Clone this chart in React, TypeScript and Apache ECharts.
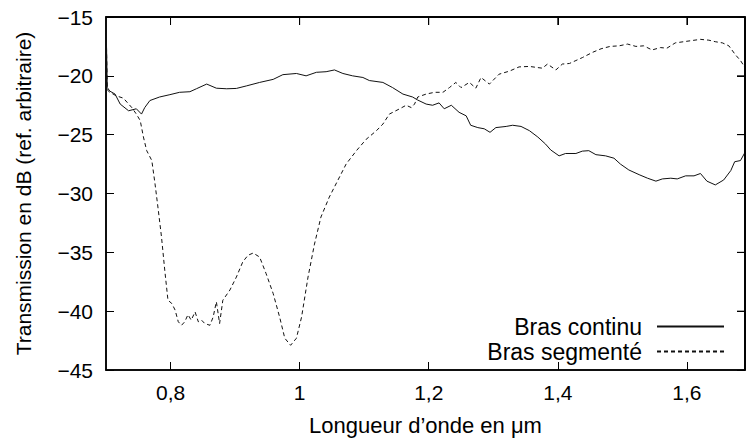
import React, { useEffect, useRef } from "react";
import * as echarts from "echarts";

const xTickValues = [0.8, 1.0, 1.2, 1.4, 1.6];
const yTickValues = [-40, -35, -30, -25, -20];
const X_MIN = 0.7;
const X_MAX = 1.69;
const Y_MIN = -45;
const Y_MAX = -15;
const legendNames = ["Bras continu", "Bras segmenté"];

const continuX = [0.7, 0.702, 0.706, 0.714, 0.722, 0.735, 0.747, 0.755, 0.76, 0.768, 0.783, 0.799, 0.814, 0.83, 0.84, 0.856, 0.871, 0.887, 0.902, 0.918, 0.938, 0.959, 0.974, 0.995, 1.01, 1.026, 1.041, 1.054, 1.067, 1.082, 1.098, 1.108, 1.129, 1.144, 1.16, 1.175, 1.183, 1.196, 1.206, 1.216, 1.224, 1.235, 1.247, 1.258, 1.265, 1.276, 1.286, 1.295, 1.304, 1.32, 1.33, 1.343, 1.356, 1.369, 1.381, 1.389, 1.402, 1.412, 1.428, 1.438, 1.448, 1.459, 1.474, 1.487, 1.497, 1.51, 1.526, 1.539, 1.552, 1.562, 1.575, 1.585, 1.598, 1.611, 1.621, 1.631, 1.644, 1.657, 1.668, 1.674, 1.683, 1.69];
const continuY = [-15.2, -21.0, -21.3, -21.55, -22.4, -22.97, -22.8, -23.25, -22.7, -22.1, -21.8, -21.6, -21.4, -21.35, -21.1, -20.7, -21.05, -21.1, -21.07, -20.85, -20.56, -20.3, -19.9, -19.8, -20.0, -19.7, -19.65, -19.5, -19.8, -20.0, -20.14, -20.4, -20.56, -21.0, -21.55, -21.8, -22.06, -22.4, -22.5, -22.3, -22.8, -22.5, -23.1, -23.4, -24.2, -24.4, -24.5, -24.8, -24.4, -24.3, -24.2, -24.3, -24.66, -25.2, -25.8, -26.3, -26.8, -26.6, -26.6, -26.4, -26.36, -26.7, -26.8, -27.0, -27.5, -28.0, -28.4, -28.7, -28.95, -28.76, -28.7, -28.76, -28.5, -28.5, -28.3, -28.95, -29.27, -28.85, -28.05, -27.3, -27.2, -26.5];

const segmentX = [0.7, 0.702, 0.706, 0.716, 0.727, 0.74, 0.747, 0.753, 0.758, 0.763, 0.771, 0.776, 0.781, 0.786, 0.791, 0.796, 0.802, 0.807, 0.812, 0.817, 0.822, 0.827, 0.832, 0.838, 0.843, 0.848, 0.853, 0.861, 0.866, 0.871, 0.876, 0.881, 0.892, 0.902, 0.912, 0.92, 0.928, 0.938, 0.948, 0.959, 0.969, 0.977, 0.986, 0.995, 1.003, 1.013, 1.023, 1.033, 1.046, 1.059, 1.072, 1.088, 1.103, 1.119, 1.129, 1.139, 1.155, 1.165, 1.173, 1.178, 1.183, 1.196, 1.209, 1.222, 1.232, 1.242, 1.25, 1.263, 1.273, 1.281, 1.294, 1.309, 1.325, 1.34, 1.356, 1.369, 1.376, 1.384, 1.397, 1.407, 1.418, 1.428, 1.438, 1.454, 1.467, 1.481, 1.495, 1.508, 1.521, 1.533, 1.546, 1.559, 1.569, 1.582, 1.595, 1.608, 1.621, 1.634, 1.644, 1.655, 1.665, 1.675, 1.683, 1.69];
const segmentY = [-15.2, -21.2, -21.4, -21.7, -21.9, -22.7, -23.25, -23.8, -25.2, -26.35, -27.2, -29.2, -31.4, -33.7, -36.5, -39.07, -39.35, -39.9, -40.9, -41.2, -40.9, -40.3, -40.76, -40.06, -40.9, -40.76, -41.05, -41.2, -40.5, -39.2, -41.05, -39.07, -38.2, -37.1, -35.8, -35.25, -35.06, -35.4, -36.8, -38.5, -40.5, -42.3, -42.9, -42.3, -40.5, -37.1, -34.3, -32.0, -30.3, -28.9, -27.5, -26.36, -25.4, -24.66, -24.1, -23.25, -22.8, -22.5, -22.7, -22.4, -21.8, -21.55, -21.4, -21.4, -21.0, -20.56, -21.0, -20.56, -21.05, -20.14, -20.7, -19.86, -19.6, -19.24, -19.2, -19.3, -19.35, -19.0, -19.5, -19.0, -18.95, -18.7, -18.45, -18.0, -17.7, -17.5, -17.45, -17.3, -17.5, -17.45, -17.8, -17.6, -17.65, -17.2, -17.1, -17.0, -16.9, -16.97, -17.1, -17.2, -17.45, -18.2, -18.7, -19.3, -19.7];

const FONT = "'Liberation Sans', Arial, Helvetica, sans-serif";

export default function App() {
  const ref = useRef<HTMLDivElement>(null);
  useEffect(() => {
    if (!ref.current) return;
    const chart = echarts.init(ref.current, null, { renderer: "svg" });
    const pairs = (xs: number[], ys: number[]) => xs.map((x, i) => [x, ys[i]]);
    const fmtX = (v: number) => String(Math.round(v * 10) / 10).replace(".", ",");
    const fmtY = (v: number) => String(v).replace("-", "\u2212");
    const tickStyle = { color: "#000", width: 1 };
    const frameLine = { show: true, onZero: false, lineStyle: { color: "#000", width: 1.5 } };
    chart.setOption({
      animation: false,
      backgroundColor: "#fff",
      grid: {
        left: 106, right: 1, top: 17, bottom: 74,
        outerBoundsMode: "none",
        show: true, borderColor: "#000", borderWidth: 1.5,
      },
      legend: {
        data: legendNames,
        orient: "vertical",
        right: 16,
        top: 310,
        align: "right",
        itemWidth: 67,
        itemHeight: 14,
        itemGap: 2,
        itemStyle: { opacity: 0 },
        textStyle: { fontFamily: FONT, fontSize: 23, color: "#000", padding: [0, 10, 0, 0] },
      },
      xAxis: [
        {
          type: "value",
          min: X_MIN,
          max: X_MAX,
          position: "bottom",
          axisLine: frameLine,
          splitLine: { show: false },
          axisTick: { show: true, inside: true, length: 8, customValues: xTickValues, lineStyle: tickStyle },
          axisLabel: { show: true, customValues: xTickValues, formatter: fmtX, fontFamily: FONT, fontSize: 21, color: "#000", margin: 12 },
          name: "Longueur d\u2019onde en \u03bcm",
          nameLocation: "middle",
          nameGap: 44,
          nameTextStyle: { fontFamily: FONT, fontSize: 22, color: "#000" },
        },
        {
          type: "value",
          min: X_MIN,
          max: X_MAX,
          position: "top",
          axisLine: { show: true, onZero: false, lineStyle: { color: "#000", width: 1.5 } },
          splitLine: { show: false },
          axisTick: { show: true, inside: true, length: 8, customValues: xTickValues, lineStyle: { color: "#000", width: 1 } },
          axisLabel: { show: false },
        },
      ],
      yAxis: [
        {
          type: "value",
          min: Y_MIN,
          max: Y_MAX,
          interval: 5,
          position: "left",
          axisLine: frameLine,
          splitLine: { show: false },
          axisTick: { show: true, inside: true, length: 8, lineStyle: tickStyle },
          axisLabel: { show: true, formatter: fmtY, fontFamily: FONT, fontSize: 21, color: "#000", margin: 13 },
          name: "Transmission en dB (ref. arbitraire)",
          nameLocation: "middle",
          nameGap: 72,
          nameTextStyle: { fontFamily: FONT, fontSize: 21, color: "#000" },
        },
        {
          type: "value",
          min: Y_MIN,
          max: Y_MAX,
          interval: 5,
          position: "right",
          axisLine: { show: true, onZero: false, lineStyle: { color: "#000", width: 1.5 } },
          splitLine: { show: false },
          axisTick: { show: true, inside: true, length: 8, lineStyle: { color: "#000", width: 1 } },
          axisLabel: { show: false },
        },
      ],
      series: [
        {
          name: legendNames[0],
          type: "line",
          symbol: "none",
          data: pairs(continuX, continuY),
          lineStyle: { color: "#111", width: 1, type: "solid" },
          itemStyle: { color: "#111" },
        },
        {
          name: legendNames[1],
          type: "line",
          symbol: "none",
          data: pairs(segmentX, segmentY),
          lineStyle: { color: "#111", width: 1, type: [4, 3] },
          itemStyle: { color: "#111" },
        },
      ],
    });

    const toPx = (v: number[]) => chart.convertToPixel({ xAxisIndex: 0, yAxisIndex: 0 }, v) as number[];
    const tl = toPx([X_MIN, Y_MAX]);
    const tr = toPx([X_MAX, Y_MAX]);
    const br = toPx([X_MAX, Y_MIN]);
    if (tl && tr && br && isFinite(tl[0]) && isFinite(tr[0])) {
      const elements: any[] = [
        { type: "line", z: 1000, silent: true, shape: { x1: tl[0], y1: tl[1], x2: tr[0], y2: tr[1] }, style: { stroke: "#000", lineWidth: 1.5 } },
        { type: "line", z: 1000, silent: true, shape: { x1: tr[0], y1: tr[1], x2: br[0], y2: br[1] }, style: { stroke: "#000", lineWidth: 1.5 } },
      ];
      xTickValues.forEach((v) => {
        const p = toPx([v, Y_MAX]);
        elements.push({ type: "line", z: 1000, silent: true, shape: { x1: p[0], y1: p[1], x2: p[0], y2: p[1] + 8 }, style: { stroke: "#000", lineWidth: 1 } });
      });
      yTickValues.forEach((v) => {
        const p = toPx([X_MAX, v]);
        elements.push({ type: "line", z: 1000, silent: true, shape: { x1: p[0], y1: p[1], x2: p[0] - 8, y2: p[1] }, style: { stroke: "#000", lineWidth: 1 } });
      });
      chart.setOption({ graphic: { elements } });
    }
    return () => chart.dispose();
  }, []);
  return <div ref={ref} style={{ position: "fixed", left: 0, top: 0, width: 746, height: 444 }} />;
}
